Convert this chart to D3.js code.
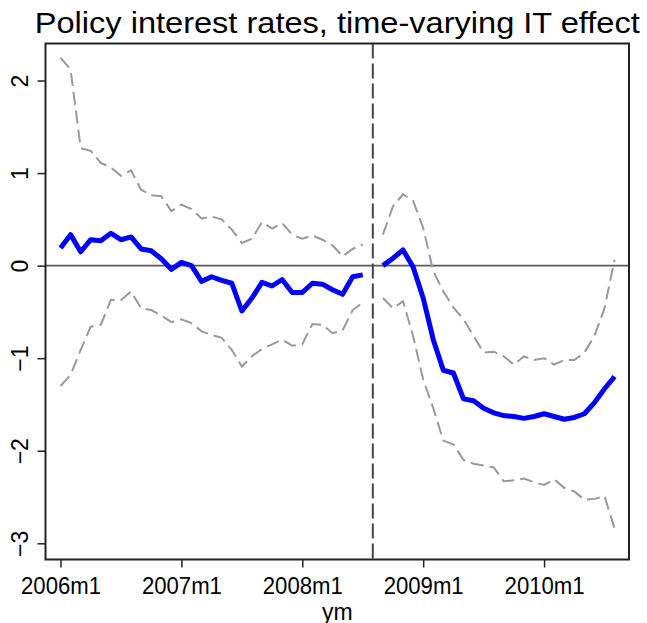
<!DOCTYPE html>
<html>
<head>
<meta charset="utf-8">
<script src="https://cdn.jsdelivr.net/npm/d3@7"></script>
<style>
  body { margin: 0; background: #fff; }
  text { font-family: "Liberation Sans", Arial, sans-serif; fill: #000; }
</style>
</head>
<body>
<svg id="chart" width="647" height="623"></svg>
<script>
// months counted from 2006m1 (= 0); 2008m8 (= 31) is the break
var breakMonth = 31;
var xTicks = [0, 12, 24, 36, 48];
var xTickLabels = ["2006m1", "2007m1", "2008m1", "2009m1", "2010m1"];
var yTicks = [2, 1, 0, -1, -2, -3];

// 2006m1 .. 2010m8, null at the break month
var coef = [0.19, 0.335, 0.15, 0.28, 0.27, 0.35, 0.28, 0.31, 0.18, 0.16,
    0.075, -0.04, 0.035, 0.0, -0.17, -0.12, -0.16, -0.19, -0.49, -0.35,
    -0.18, -0.22, -0.15, -0.29, -0.29, -0.19, -0.2, -0.26, -0.31, -0.12,
    -0.10, null,
    0.0, 0.08, 0.17, -0.015, -0.35, -0.80, -1.13, -1.16, -1.44, -1.46,
    -1.54, -1.59, -1.62, -1.63, -1.65, -1.63, -1.60, -1.63, -1.66, -1.64,
    -1.60, -1.48, -1.33, -1.20];
var upper = [2.245, 2.12, 1.27, 1.24, 1.11, 1.06, 0.97, 1.03, 0.82, 0.76,
    0.75, 0.59, 0.66, 0.61, 0.51, 0.53, 0.50, 0.39, 0.245, 0.29,
    0.47, 0.40, 0.46, 0.335, 0.29, 0.325, 0.28, 0.22, 0.10, 0.18,
    0.23, null,
    0.335, 0.64, 0.77, 0.70, 0.41, -0.06, -0.28, -0.45, -0.58, -0.76,
    -0.94, -0.93, -0.98, -1.07, -0.98, -1.02, -1.00, -1.07, -1.02, -1.02,
    -0.94, -0.76, -0.46, 0.065];
var lower = [-1.30, -1.18, -0.91, -0.66, -0.64, -0.37, -0.375, -0.28, -0.46, -0.48,
    -0.54, -0.61, -0.58, -0.62, -0.71, -0.75, -0.78, -0.91, -1.09, -0.98,
    -0.90, -0.85, -0.80, -0.865, -0.85, -0.63, -0.64, -0.73, -0.70, -0.48,
    -0.40, null,
    -0.35, -0.46, -0.385, -0.76, -1.23, -1.54, -1.89, -1.93, -2.10, -2.14,
    -2.16, -2.18, -2.33, -2.32, -2.30, -2.34, -2.37, -2.31, -2.40, -2.44,
    -2.53, -2.52, -2.49, -2.84];

var svg = d3.select("#chart");
var margin = {top: 43.5, right: 18, bottom: 63.5, left: 45.5},
    width = +svg.attr("width") - margin.left - margin.right,
    height = +svg.attr("height") - margin.top - margin.bottom;

var x = d3.scaleLinear().domain([-1.49, 56.43]).range([0, width]),
    y = d3.scaleLinear().domain([2.4, -3.175]).range([0, height]);

var g = svg.append("g")
    .attr("transform", "translate(" + margin.left + "," + margin.top + ")");

var months = d3.range(coef.length);

// zero line
g.append("line")
    .attr("x1", 0).attr("x2", width)
    .attr("y1", y(0)).attr("y2", y(0))
    .attr("stroke", "#5a5a5a")
    .attr("stroke-width", 1.6);

// break line
g.append("line")
    .attr("x1", x(breakMonth)).attr("x2", x(breakMonth))
    .attr("y1", 0).attr("y2", height)
    .attr("stroke", "#444")
    .attr("stroke-width", 2)
    .attr("stroke-dasharray", "15,5");

function lineFor(vals) {
    return d3.line()
        .defined(function(d) { return vals[d] != null; })
        .x(function(d) { return x(d); })
        .y(function(d) { return y(vals[d]); });
}

[upper, lower].forEach(function(band) {
    g.append("path")
        .datum(months)
        .attr("fill", "none")
        .attr("stroke", "#999")
        .attr("stroke-width", 2)
        .attr("stroke-dasharray", "13,6")
        .attr("d", lineFor(band));
});

g.append("path")
    .datum(months)
    .attr("fill", "none")
    .attr("stroke", "#0000ff")
    .attr("stroke-width", 5)
    .attr("stroke-linejoin", "round")
    .attr("d", lineFor(coef));

// frame
g.append("rect")
    .attr("width", width).attr("height", height)
    .attr("fill", "none")
    .attr("stroke", "#222")
    .attr("stroke-width", 2);

// axes
var xAxis = g.append("g")
    .attr("transform", "translate(0," + height + ")")
    .call(d3.axisBottom(x).tickValues(xTicks)
        .tickFormat(function(d, i) { return xTickLabels[i]; })
        .tickSize(8).tickPadding(10));
xAxis.select(".domain").remove();
xAxis.selectAll("line").attr("stroke", "#222").attr("stroke-width", 1.5);
xAxis.selectAll("text").style("font-size", "23px").attr("fill", "#000")
    .attr("textLength", 80).attr("lengthAdjust", "spacingAndGlyphs");

var yAxis = g.append("g")
    .call(d3.axisLeft(y).tickValues(yTicks).tickFormat(d3.format("d"))
        .tickSize(8).tickPadding(0));
yAxis.select(".domain").remove();
yAxis.selectAll("line").attr("stroke", "#222").attr("stroke-width", 1.5);
yAxis.selectAll("text")
    .style("font-size", "23px")
    .attr("fill", "#000")
    .attr("x", null).attr("dy", null)
    .attr("text-anchor", "middle")
    .attr("transform", "translate(-18,0) rotate(-90)");

g.append("text")
    .attr("x", width / 2)
    .attr("y", height + 60)
    .attr("text-anchor", "middle")
    .style("font-size", "23px")
    .text("ym");

svg.append("text")
    .attr("x", margin.left + width / 2)
    .attr("y", 33)
    .attr("text-anchor", "middle")
    .attr("textLength", 605)
    .attr("lengthAdjust", "spacingAndGlyphs")
    .style("font-size", "29px")
    .text("Policy interest rates, time-varying IT effect");
</script>
</body>
</html>
